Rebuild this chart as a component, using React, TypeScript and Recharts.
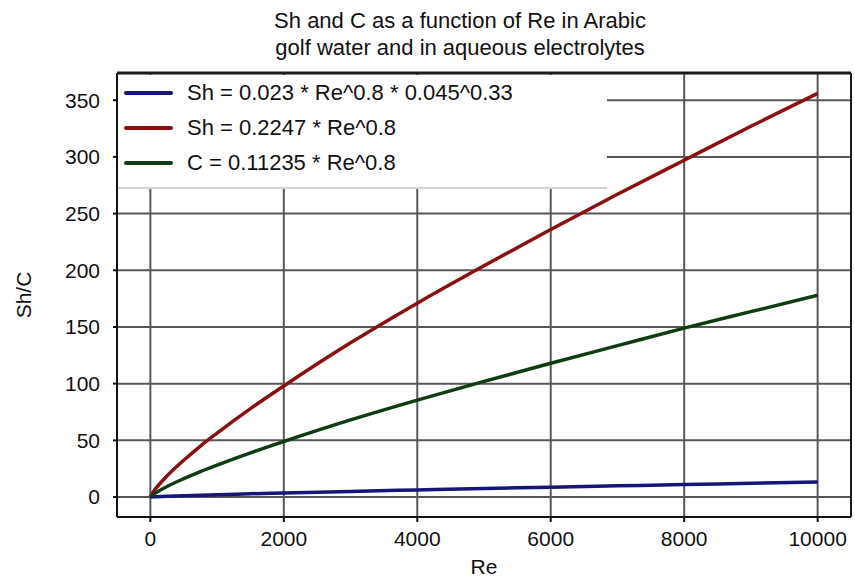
import React from 'react';
import { LineChart, Line, XAxis, YAxis, CartesianGrid, Legend, ReferenceLine } from 'recharts';

const reValues = [0, 50, 100, 250, 500, 750, 1000, 1500, 2000, 3000, 4000, 5000, 6000, 7000, 8000, 9000, 10000];
const shArabic = [0, 0.2, 0.3, 0.7, 1.2, 1.65, 2.1, 2.9, 3.6, 5.0, 6.3, 7.5, 8.7, 9.9, 11.0, 12.1, 13.2];
const shElectrolyte = [0, 5.1, 8.9, 18.7, 32.4, 45, 56.4, 78, 98, 136, 171, 204, 236, 267, 297, 327, 356];
const cElectrolyte = [0, 2.6, 4.5, 9.3, 16.2, 22.5, 28.2, 39, 49, 68, 85.5, 102, 118, 133.5, 149, 163.5, 178];

const seriesNames = ['Sh = 0.023 * Re^0.8 * 0.045^0.33', 'Sh = 0.2247 * Re^0.8', 'C = 0.11235 * Re^0.8'];
const seriesKeys = ['shArabic', 'shElectrolyte', 'cElectrolyte'];
const seriesColors = ['#15157a', '#8a1010', '#0f3d12'];

const xTicks = [0, 2000, 4000, 6000, 8000, 10000];
const yTicks = [0, 50, 100, 150, 200, 250, 300, 350];
const titleLines = ['Sh and C as a function of Re in Arabic', 'golf water and in aqueous electrolytes'];
const xLabel = 'Re';
const yLabel = 'Sh/C';

const xDomain = [-500, 10500];
const yDomain = [-17.6, 374];

const data = reValues.map((re, i) => ({
  re,
  shArabic: shArabic[i],
  shElectrolyte: shElectrolyte[i],
  cElectrolyte: cElectrolyte[i],
}));

const FONT = '"Liberation Sans", Arial, sans-serif';

const LegendBox = () => (
  <div
    style={{
      width: 489,
      height: 114,
      background: '#fff',
      borderBottom: '2px solid #d4d4d4',
      boxSizing: 'border-box',
      fontFamily: FONT,
    }}
  >
    {seriesNames.map((name, i) => (
      <div key={name} style={{ display: 'flex', alignItems: 'center', height: 35 }}>
        <div
          style={{
            marginLeft: 6,
            width: 49,
            height: 4,
            borderRadius: 2,
            background: seriesColors[i],
          }}
        />
        <span style={{ marginLeft: 14, fontSize: 22, color: '#111', whiteSpace: 'nowrap' }}>{name}</span>
      </div>
    ))}
  </div>
);

export default function App() {
  return (
    <div style={{ position: 'absolute', left: 0, top: 0, width: 855, height: 577, background: '#fff' }}>
      <div
        style={{
          position: 'absolute',
          left: 0,
          top: 7,
          width: 920,
          textAlign: 'center',
          fontFamily: FONT,
          fontSize: 22,
          lineHeight: '27px',
          color: '#111',
          zIndex: 2,
        }}
      >
        {titleLines.map((t) => (
          <div key={t}>{t}</div>
        ))}
      </div>
      <LineChart
        width={855}
        height={577}
        data={data}
        margin={{ top: 73, right: 4, left: 0, bottom: 0 }}
        style={{ fontFamily: FONT }}
      >
        <CartesianGrid stroke="#585858" strokeWidth={2} horizontalValues={yTicks} verticalValues={xTicks} />
        <XAxis
          dataKey="re"
          type="number"
          domain={xDomain}
          ticks={xTicks}
          allowDataOverflow
          height={60}
          stroke="#111"
          strokeWidth={2}
          tickSize={5}
          tickMargin={9}
          tick={{ fontSize: 21, fill: '#111' }}
          label={{ value: xLabel, position: 'insideBottom', offset: 3, fontSize: 21, fill: '#111' }}
        />
        <YAxis
          type="number"
          domain={yDomain}
          ticks={yTicks}
          allowDataOverflow
          width={117}
          stroke="#111"
          strokeWidth={2}
          tickSize={4}
          tickMargin={13}
          tick={{ fontSize: 21, fill: '#111' }}
          label={{
            value: yLabel,
            angle: -90,
            position: 'insideLeft',
            offset: 24,
            fontSize: 21,
            fill: '#111',
            style: { textAnchor: 'middle' },
          }}
        />
        <Legend
          layout="vertical"
          align="center"
          verticalAlign="middle"
          content={() => <LegendBox />}
          wrapperStyle={{ left: 118, top: 75, width: 489, height: 114 }}
        />
        {seriesKeys.map((k, i) => (
          <Line
            key={k}
            dataKey={k}
            name={seriesNames[i]}
            type="monotone"
            stroke={seriesColors[i]}
            strokeWidth={3.5}
            dot={false}
            isAnimationActive={false}
          />
        ))}
        <ReferenceLine y={yDomain[1]} stroke="#1a1a1a" strokeWidth={3} ifOverflow="visible" />
        <ReferenceLine x={xDomain[1]} stroke="#1a1a1a" strokeWidth={2} ifOverflow="visible" />
      </LineChart>
    </div>
  );
}
